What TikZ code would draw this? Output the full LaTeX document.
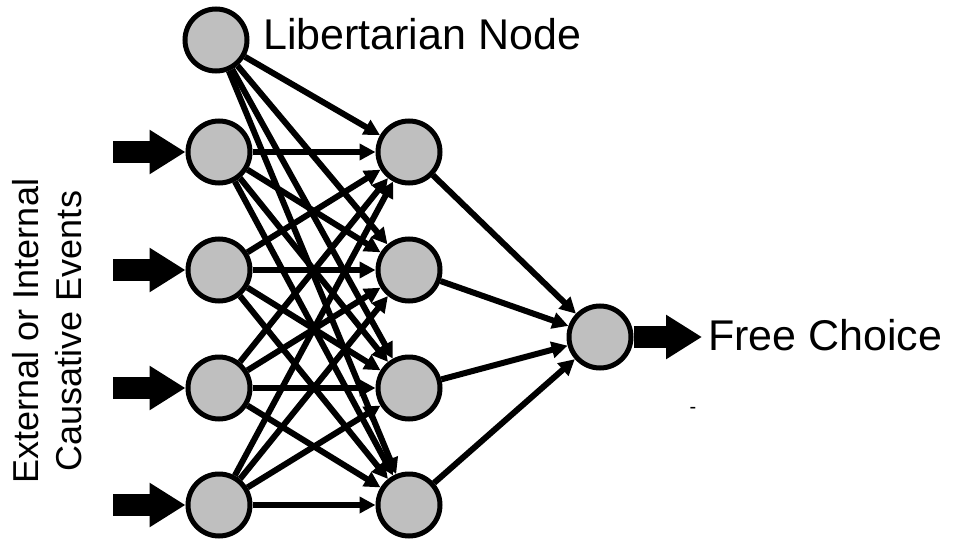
\documentclass[tikz,border=0pt]{standalone}
\usepackage{fontspec}
\setmainfont{Liberation Sans}
\usetikzlibrary{arrows.meta}

\definecolor{nodegray}{RGB}{191,191,191}
\tikzset{
  neuron/.style={circle, draw=black, fill=nodegray, line width=5pt, minimum size=62pt, inner sep=0pt},
  edge/.style={line width=6pt, -{Triangle[length=16pt,width=16pt]}},
  fatarrow/.style={line width=22pt, -{Triangle[length=36pt,width=42pt]}},
  bigtext/.style={font=\fontsize{43}{52}\selectfont, inner sep=0pt}
}

\begin{document}
\begin{tikzpicture}[x=1pt,y=-1pt]
			\useasboundingbox (0,0) rectangle (953,543);
			% first layer
			\node[neuron] (lib) at (216,40) {};
			\node[neuron] (a1) at (219,152) {};
			\node[neuron] (a2) at (219,270) {};
			\node[neuron] (a3) at (219,388) {};
			\node[neuron] (a4) at (219,505) {};
			% second layer
			\node[neuron] (b1) at (409,152) {};
			\node[neuron] (b2) at (409,270) {};
			\node[neuron] (b3) at (409,388) {};
			\node[neuron] (b4) at (409,505) {};
			% output
			\node[neuron] (out) at (600,337) {};
			% connections
			\foreach \i in {lib,a1,a2,a3,a4}
				\foreach \j in {b1,b2,b3,b4}
					\draw[edge] (\i) -- (\j);
			\foreach \j in {b1,b2,b3,b4}
				\draw[edge] (\j) -- (out);
			% inputs
			\foreach \k/\y in {1/152,2/270,3/388,4/505} {
				\coordinate (in\k) at (113,\y);
				\draw[fatarrow] (in\k) -- (a\k);
			}
			\coordinate (res) at (702,337);
			\draw[fatarrow] (out) -- (res);
			% labels
			\node[bigtext, anchor=base west] (libtext) at (263,50) {Libertarian Node};
			\node[bigtext, anchor=base west] (choice) at (708,350) {Free Choice};
			\node[rotate=90, align=center, inner sep=0pt, font=\fontsize{36}{43}\selectfont] (events) at (47,331) {External or Internal\\Causative Events};
			\node[inner sep=0pt, font=\fontsize{20}{24}\selectfont] (dash) at (693,410) {-};
		\end{tikzpicture}
\end{document}
